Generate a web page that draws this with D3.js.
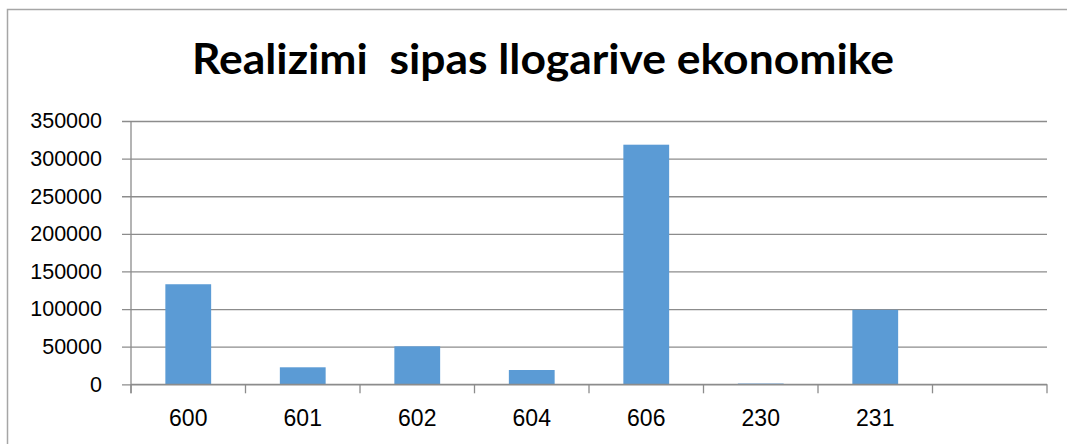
<!DOCTYPE html>
<html>
<head>
<meta charset="utf-8" />
<title>Realizimi sipas llogarive ekonomike</title>
<script src="https://cdn.jsdelivr.net/npm/d3@7"></script>
<style>
  body { margin: 0; background: #fff; }
  svg { display: block; }
</style>
</head>
<body>
<script>
// data
const categories = ["600", "601", "602", "604", "606", "230", "231", ""];
const values = [133000, 22600, 50500, 19000, 318500, 1000, 99000, null];
const yTicks = [0, 50000, 100000, 150000, 200000, 250000, 300000, 350000];
const title = "Realizimi\u00a0\u00a0sipas llogarive ekonomike";

const W = 1067, H = 444;
const margin = { top: 121, right: 20, bottom: 60, left: 131 };

const svg = d3.select("body").append("svg")
  .attr("width", W)
  .attr("height", H);

// chart frame (only top and left visible in the crop)
svg.append("path")
  .attr("d", "M7.5," + H + "V9.5H" + W)
  .attr("fill", "none")
  .attr("stroke", "#a6a6a6")
  .attr("stroke-width", 1.5);

svg.append("text")
  .attr("x", 543)
  .attr("y", 74)
  .attr("text-anchor", "middle")
  .attr("textLength", 702)
  .attr("lengthAdjust", "spacingAndGlyphs")
  .style("font-family", "Lato, 'Open Sans', sans-serif")
  .style("font-weight", "bold")
  .style("font-size", "42px")
  .attr("fill", "#000")
  .text(title);

const x = d3.scaleBand()
  .domain(categories.map((c, i) => i))
  .range([margin.left, W - margin.right])
  .padding(0);

const y = d3.scaleLinear()
  .domain([0, 350000])
  .range([H - margin.bottom + 0.3, margin.top]);

// gridlines + y labels
const yAxis = svg.append("g")
  .attr("transform", "translate(" + margin.left + ",0)")
  .call(d3.axisLeft(y)
    .tickValues(yTicks)
    .tickSize(-(W - margin.right - margin.left))
    .tickFormat(d3.format("d"))
    .tickPadding(29));
yAxis.select(".domain").remove();
yAxis.selectAll(".tick line")
  .attr("stroke", "#8c8c8c")
  .attr("stroke-width", 1.3)
  .attr("x1", -9);
yAxis.selectAll(".tick text")
  .style("font-family", "'Liberation Sans', Arial, sans-serif")
  .style("font-size", "21.5px")
  .attr("fill", "#000");

// bars
const bw = x.bandwidth();
svg.append("g")
  .selectAll("rect")
  .data(values.map((v, i) => ({ i: i, v: v })).filter(d => d.v != null))
  .join("rect")
  .attr("x", d => x(d.i) + bw * 0.3)
  .attr("width", bw * 0.4)
  .attr("y", d => y(d.v))
  .attr("height", d => y(0) - y(d.v))
  .attr("fill", "#5b9bd5");

// x axis: baseline, boundary ticks and labels
const y0 = y(0);
const xg = svg.append("g");
xg.append("line")
  .attr("x1", margin.left).attr("x2", W - margin.right)
  .attr("y1", y0).attr("y2", y0)
  .attr("stroke", "#8c8c8c").attr("stroke-width", 1.3);
xg.append("line")
  .attr("x1", margin.left).attr("x2", margin.left)
  .attr("y1", margin.top).attr("y2", y0 + 9)
  .attr("stroke", "#8c8c8c").attr("stroke-width", 1.3);
const bounds = categories.map((c, i) => x(i)).concat([x(categories.length - 1) + bw]);
xg.selectAll("line.tk")
  .data(bounds)
  .join("line")
  .attr("class", "tk")
  .attr("x1", d => d).attr("x2", d => d)
  .attr("y1", y0).attr("y2", y0 + 9)
  .attr("stroke", "#8c8c8c").attr("stroke-width", 1.3);
xg.selectAll("text")
  .data(categories)
  .join("text")
  .attr("x", (d, i) => x(i) + bw / 2)
  .attr("y", 426)
  .attr("text-anchor", "middle")
  .style("font-family", "'Liberation Sans', Arial, sans-serif")
  .style("font-size", "23px")
  .attr("fill", "#000")
  .text(d => d);
</script>
</body>
</html>
